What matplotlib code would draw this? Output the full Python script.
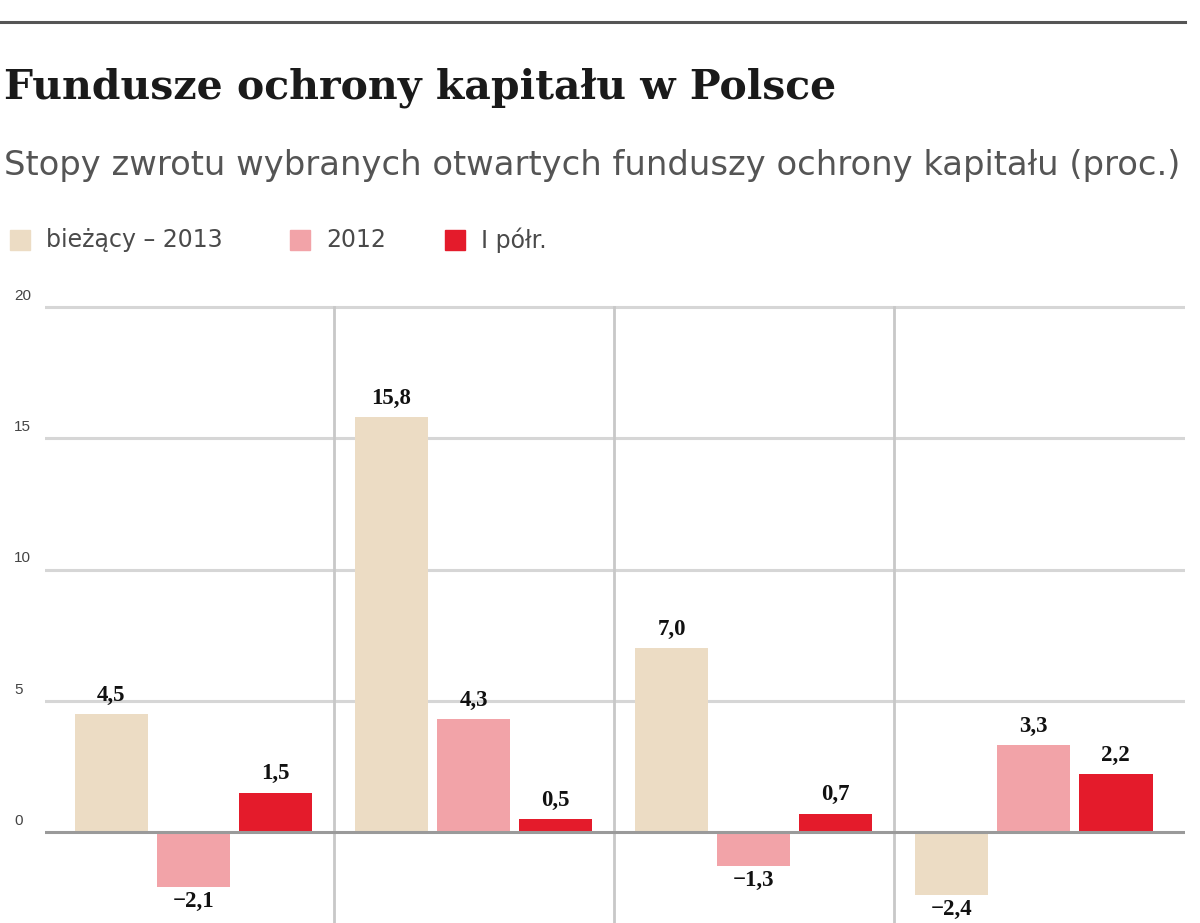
import matplotlib
matplotlib.use("Agg")
import matplotlib.pyplot as plt
import numpy as np

# ---- data ----
groups = ["A", "B", "C", "D"]
series_names = ["bieżący – 2013", "2012", "I półr."]
s1 = [4.5, 15.8, 7.0, -2.4]
s2 = [-2.1, 4.3, -1.3, 3.3]
s3 = [1.5, 0.5, 0.7, 2.2]
yticks = [0, 5, 10, 15, 20]
colors = ["#ecdcc4", "#f2a3a8", "#e41b2b"]

W, H = 1200, 923
fig = plt.figure(figsize=(W / 100, H / 100), dpi=100)
fig.patch.set_facecolor("white")

def fx(px):
    return px / W

def fy(py):
    return 1 - py / H

# top rule
fig.add_artist(plt.Line2D([0, fx(1185)], [fy(22), fy(22)], color="#555555", lw=2.2,
                          transform=fig.transFigure))

fig.text(fx(4), fy(88), "Fundusze ochrony kapitału w Polsce", fontsize=29.5,
         fontweight="bold", family="DejaVu Serif", color="#1a1a1a", va="center", ha="left")
fig.text(fx(4), fy(165), "Stopy zwrotu wybranych otwartych funduszy ochrony kapitału (proc.)",
         fontsize=24.3, family="DejaVu Sans", color="#555555", va="center", ha="left")

# legend
leg_x = [10, 290, 445]
for i, name in enumerate(series_names):
    fig.patches.append(plt.Rectangle((fx(leg_x[i]), fy(250)), fx(20), 20 / H,
                                     transform=fig.transFigure, color=colors[i]))
    fig.text(fx(leg_x[i] + 36), fy(240), name, fontsize=17, family="DejaVu Sans",
             color="#4a4a4a", va="center", ha="left")

# axes
ymin = -91 / 26.25
ytop = 20.3
top_px = 832 - ytop * 26.25
ax = fig.add_axes([fx(45), 0, fx(1185) - fx(45), (H - top_px) / H])
ax.set_ylim(ymin, ytop)
ax.set_xlim(-0.53, 3.54)
for sp in ax.spines.values():
    sp.set_visible(False)
ax.set_xticks([])
ax.set_yticks([])

for t in yticks[1:]:
    ax.axhline(t, color="#d6d6d6", lw=2.2, zorder=0)
ax.axhline(0, color="#9a9a9a", lw=2.2, zorder=3)

yfrac_top = (20 - ymin) / (ytop - ymin)
for xs in [0.5, 1.5, 2.5]:
    ax.axvline(xs, ymin=0, ymax=yfrac_top, color="#c8c8c8", lw=2, zorder=0)

x = np.arange(len(groups))
off = 0.293
bw = 0.262
for k, (vals, col) in enumerate(zip([s1, s2, s3], colors)):
    xp = x + (k - 1) * off
    ax.bar(xp, vals, width=bw, color=col, zorder=2)
    for xi, v in zip(xp, vals):
        lab = f"{v:.1f}".replace(".", ",").replace("-", "−")
        if v >= 0:
            ax.annotate(lab, (xi, v), xytext=(0, 6), textcoords="offset points",
                        ha="center", va="bottom", fontsize=16.5, fontweight="bold",
                        family="Liberation Serif", color="#111111", zorder=5)
        else:
            ax.annotate(lab, (xi, v), xytext=(0, -3), textcoords="offset points",
                        ha="center", va="top", fontsize=16.5, fontweight="bold",
                        family="Liberation Serif", color="#111111", zorder=5)

# y tick labels
for t in yticks:
    py = 832 - t * 26.25
    fig.text(fx(14), fy(py - 11), f"{t}", fontsize=11, family="Liberation Sans",
             color="#444444", va="center", ha="left")

fig.savefig("out.png", dpi=100, facecolor="white")
